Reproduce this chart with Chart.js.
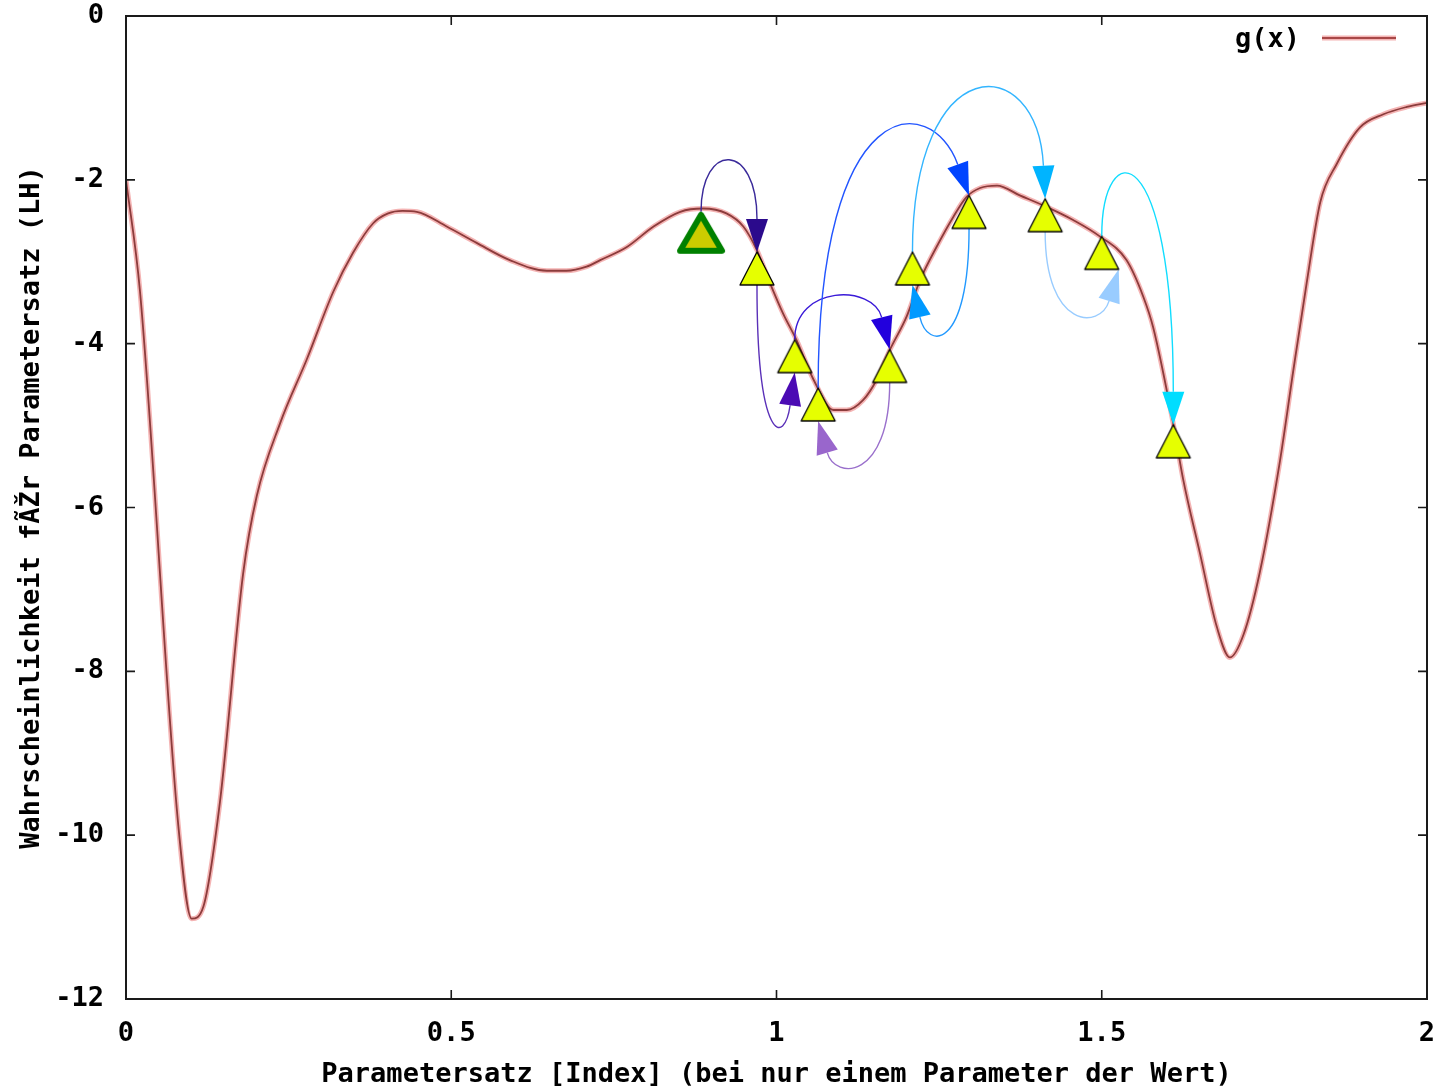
<!DOCTYPE html>
<html>
<head>
<meta charset="utf-8">
<title>g(x)</title>
<script src="https://cdn.jsdelivr.net/npm/chart.js@4.4.1/dist/chart.umd.min.js"></script>
<style>
  html, body { margin: 0; padding: 0; background: #fff; }
  canvas { display: block; }
</style>
</head>
<body>
<canvas id="chart" width="1446" height="1088"></canvas>
<script>
// g(x)
const curveX = [0, 0.0215, 0.0805, 0.101, 0.119, 0.1445, 0.180, 0.201, 0.237, 0.278,
  0.319, 0.349, 0.380, 0.403, 0.425, 0.447, 0.493, 0.539, 0.590, 0.647,
  0.677, 0.708, 0.729, 0.770, 0.811, 0.852, 0.887, 0.923, 0.949, 0.970,
  0.990, 1.010, 1.031, 1.057, 1.088, 1.108, 1.133, 1.154, 1.174, 1.200,
  1.221, 1.246, 1.272, 1.292, 1.313, 1.339, 1.374, 1.415, 1.456, 1.497,
  1.538, 1.564, 1.579, 1.610, 1.625, 1.651, 1.677, 1.697, 1.718, 1.743,
  1.774, 1.795, 1.815, 1.836, 1.861, 1.897, 1.933, 1.969, 2.0];
const curveY = [-2.00, -3.36, -9.89, -11.02, -10.87, -9.59, -6.81, -5.86, -4.97, -4.19,
  -3.36, -2.89, -2.53, -2.41, -2.38, -2.39, -2.57, -2.77, -2.98, -3.11,
  -3.11, -3.06, -2.98, -2.82, -2.57, -2.39, -2.35, -2.41, -2.57, -2.86,
  -3.26, -3.63, -3.96, -4.44, -4.81, -4.81, -4.69, -4.44, -4.08, -3.67,
  -3.22, -2.82, -2.45, -2.21, -2.10, -2.07, -2.19, -2.33, -2.49, -2.69,
  -2.98, -3.43, -3.80, -4.98, -5.65, -6.56, -7.46, -7.83, -7.55, -6.79,
  -5.43, -4.30, -3.26, -2.27, -1.81, -1.36, -1.20, -1.11, -1.06];

// visited parameter sets, in order (first one is the start)
const stepX = [0.884, 0.970, 1.028, 1.174, 1.064, 1.296, 1.209, 1.413, 1.500, 1.610];
const stepY = [-2.39, -2.88, -3.95, -4.07, -4.54, -2.19, -2.88, -2.23, -2.69, -4.99];

const xTicks = [0, 0.5, 1, 1.5, 2];
const yTicks = [-12, -10, -8, -6, -4, -2, 0];

const seriesLabel = "g(x)";
const xTitle = "Parametersatz [Index] (bei nur einem Parameter der Wert)";
const yTitle = "Wahrscheinlichkeit fÃŽr Parametersatz (LH)";

// look of the jump arrows (one per step), bend in px, tilt of the head in degrees
const arrowStyles = [
  { side: "above", bend: 52, tilt: 0,   line: "#3a2a9a", head: "#2b0a8c" },
  { side: "below", bend: 15, tilt: 8,   line: "#5a30b8", head: "#4b0bb4" },
  { side: "above", bend: 22, tilt: 14,  line: "#3a1ad8", head: "#2200dd" },
  { side: "below", bend: 12, tilt: -16, line: "#9a70cc", head: "#9966cc" },
  { side: "above", bend: 27, tilt: 20,  line: "#2255ff", head: "#0044ff" },
  { side: "below", bend: 14, tilt: -13, line: "#2299ff", head: "#0099ff" },
  { side: "above", bend: 77, tilt: 3,   line: "#33b5ff", head: "#00b4ff" },
  { side: "below", bend: 13, tilt: 17,  line: "#99ccff", head: "#99ccff", dx: 17 },
  { side: "above", bend: 57, tilt: 0,   line: "#11ddff", head: "#00ddff" },
];

const FONT = { family: "'DejaVu Sans Mono', monospace", size: 27, weight: "bold" };
const MARK_H = 33, HEAD_LEN = 33, HEAD_W = 22;

// triangle with its apex in the middle of the image, so it hangs below the point
function triangleImage(fill, stroke, lineWidth, w, h) {
  const pad = lineWidth + 2;
  const c = document.createElement("canvas");
  c.width = w + 2 * pad;
  c.height = 2 * (h + pad);
  const g = c.getContext("2d");
  const cx = c.width / 2;
  const top = c.height / 2 + (lineWidth > 2 ? lineWidth / 2 : 0);
  g.beginPath();
  g.moveTo(cx, top);
  g.lineTo(cx + w / 2, top + h);
  g.lineTo(cx - w / 2, top + h);
  g.closePath();
  g.fillStyle = fill;
  g.fill();
  g.lineJoin = "round";
  g.lineWidth = lineWidth;
  g.strokeStyle = stroke;
  g.stroke();
  return c;
}

const startMark = triangleImage("#cccc00", "#008000", 6, 42, 36);
const stepMark = triangleImage("#e6ff00", "#000000", 1.3, 34, MARK_H);

// inward ticks on all four sides plus the box
const framePlugin = {
  id: "frame",
  afterDatasetsDraw(chart) {
    const { ctx, chartArea: a, scales: { x, y } } = chart;
    ctx.save();
    ctx.strokeStyle = "#1a1a1a";
    ctx.lineWidth = 1.6;
    ctx.beginPath();
    x.ticks.forEach((t) => {
      const px = x.getPixelForValue(t.value);
      ctx.moveTo(px, a.bottom); ctx.lineTo(px, a.bottom - 9);
      ctx.moveTo(px, a.top); ctx.lineTo(px, a.top + 9);
    });
    y.ticks.forEach((t) => {
      const py = y.getPixelForValue(t.value);
      ctx.moveTo(a.left, py); ctx.lineTo(a.left + 9, py);
      ctx.moveTo(a.right, py); ctx.lineTo(a.right - 9, py);
    });
    ctx.stroke();
    ctx.lineWidth = 2;
    ctx.strokeRect(a.left, a.top, a.right - a.left, a.bottom - a.top);
    ctx.restore();
  },
};

// curved arrows from each step to the next
const arrowPlugin = {
  id: "stepArrows",
  afterDatasetDraw(chart, args) {
    if (args.index !== 1) return;
    const pts = chart.getDatasetMeta(2).data;
    const ctx = chart.ctx;
    ctx.save();
    arrowStyles.forEach((s, i) => {
      const p = pts[i], q = pts[i + 1];
      if (!p || !q) return;
      const below = s.side === "below";
      const off = below ? MARK_H : 0;
      const x0 = p.x, y0 = p.y + off;
      const tx = q.x + (s.dx || 0), ty = q.y + off;
      const t = (s.tilt * Math.PI) / 180;
      const dir = [Math.sin(t), below ? -Math.cos(t) : Math.cos(t)];
      const hx = tx - dir[0] * HEAD_LEN, hy = ty - dir[1] * HEAD_LEN;
      const extreme = below ? Math.max(y0, hy) + s.bend : Math.min(y0, hy) - s.bend;
      const c = (extreme - 0.125 * (y0 + hy)) / 0.75;
      const k = (hy - c) / dir[1];
      ctx.strokeStyle = s.line;
      ctx.lineWidth = 1.4;
      ctx.beginPath();
      ctx.moveTo(x0, y0);
      ctx.bezierCurveTo(x0, c, hx - dir[0] * k, hy - dir[1] * k, hx, hy);
      ctx.stroke();
      const nx = -dir[1], ny = dir[0];
      ctx.fillStyle = s.head;
      ctx.beginPath();
      ctx.moveTo(tx, ty);
      ctx.lineTo(hx + nx * HEAD_W / 2, hy + ny * HEAD_W / 2);
      ctx.lineTo(hx - nx * HEAD_W / 2, hy - ny * HEAD_W / 2);
      ctx.closePath();
      ctx.fill();
    });
    ctx.restore();
  },
};

// gnuplot style key: text first, line sample after it
const keyPlugin = {
  id: "key",
  afterDraw(chart) {
    const { ctx, chartArea: a } = chart;
    const lineEnd = a.right - 31;
    const lineStart = lineEnd - 74;
    const yMid = a.top + 22;
    ctx.save();
    ctx.font = Chart.helpers.toFont(FONT).string;
    ctx.fillStyle = "#000";
    ctx.textAlign = "right";
    ctx.textBaseline = "middle";
    ctx.fillText(seriesLabel, lineStart - 22, yMid + 2);
    ctx.strokeStyle = "rgba(236,130,130,0.6)";
    ctx.lineWidth = 5;
    ctx.beginPath(); ctx.moveTo(lineStart, yMid); ctx.lineTo(lineEnd, yMid); ctx.stroke();
    ctx.strokeStyle = "#a84848";
    ctx.lineWidth = 2;
    ctx.beginPath(); ctx.moveTo(lineStart, yMid); ctx.lineTo(lineEnd, yMid); ctx.stroke();
    ctx.restore();
  },
};

const curvePoints = curveX.map((x, i) => ({ x: x, y: curveY[i] }));
const stepPoints = stepX.map((x, i) => ({ x: x, y: stepY[i] }));

const ctx = document.getElementById("chart").getContext("2d");

new Chart(ctx, {
  type: "scatter",
  data: {
    datasets: [
      {
        label: seriesLabel,
        data: curvePoints,
        showLine: true,
        borderColor: "rgba(236,130,130,0.6)",
        borderWidth: 5,
        pointRadius: 0,
        cubicInterpolationMode: "monotone",
        order: 2,
      },
      {
        label: seriesLabel,
        data: curvePoints,
        showLine: true,
        borderColor: "#8c3c3c",
        borderWidth: 1.8,
        pointRadius: 0,
        cubicInterpolationMode: "monotone",
        order: 1,
      },
      {
        label: "Schritte",
        data: stepPoints,
        showLine: false,
        pointStyle: (c) => (c.dataIndex === 0 ? startMark : stepMark),
        pointRadius: 10,
        order: 0,
      },
    ],
  },
  options: {
    responsive: false,
    animation: false,
    devicePixelRatio: 1,
    events: [],
    layout: { padding: { top: 16, right: 19, bottom: 0, left: 0 } },
    plugins: {
      legend: { display: false },
      tooltip: { enabled: false },
    },
    scales: {
      x: {
        type: "linear",
        min: 0,
        max: 2,
        afterBuildTicks: (s) => { s.ticks = xTicks.map((v) => ({ value: v })); },
        afterFit: (s) => {
          s.height = 89;
          s.paddingLeft = 0;
          s.paddingRight = 0;
        },
        ticks: {
          font: FONT,
          color: "#000",
          padding: 11,
          maxRotation: 0,
          autoSkip: false,
          callback: (v) => String(v),
        },
        grid: { display: false },
        border: { display: false },
        title: {
          display: true,
          text: xTitle,
          color: "#000",
          font: { ...FONT, lineHeight: 1 },
          padding: 0,
        },
      },
      y: {
        type: "linear",
        min: -12,
        max: 0,
        afterBuildTicks: (s) => { s.ticks = yTicks.map((v) => ({ value: v })); },
        afterFit: (s) => {
          s.width = 126;
          s.paddingTop = 0;
          s.paddingBottom = 0;
        },
        ticks: {
          font: FONT,
          color: "#000",
          padding: 14,
          autoSkip: false,
          callback: (v) => String(v),
        },
        grid: { display: false },
        border: { display: false },
        title: {
          display: true,
          text: yTitle,
          color: "#000",
          font: { ...FONT, lineHeight: 1 },
          padding: { top: 18, bottom: 0 },
        },
      },
    },
  },
  plugins: [framePlugin, arrowPlugin, keyPlugin],
});
</script>
</body>
</html>
